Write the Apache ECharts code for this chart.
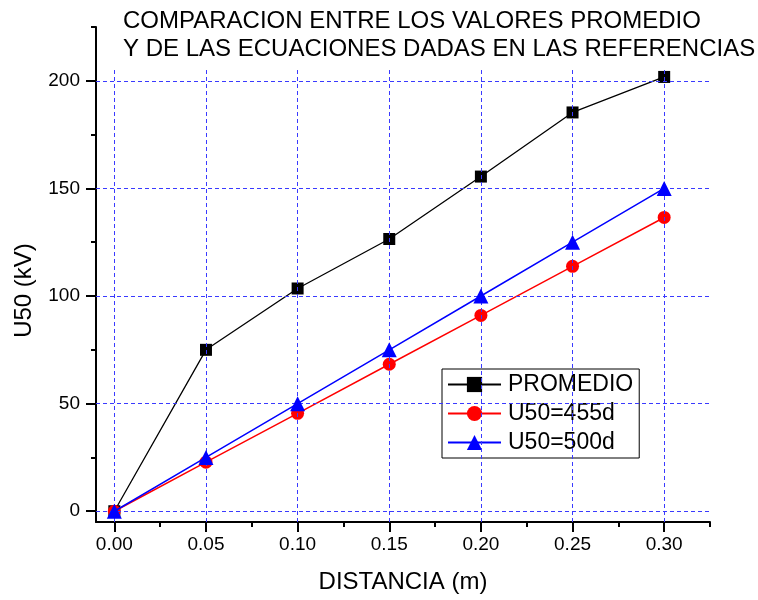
<!DOCTYPE html>
<html><head><meta charset="utf-8">
<script src="https://cdn.jsdelivr.net/npm/echarts@6/dist/echarts.min.js"></script>
<style>html,body{margin:0;padding:0;background:#fff}#c{width:758px;height:600px}</style>
</head><body><div id="c"></div>
<script>
const distances = [0.00, 0.05, 0.10, 0.15, 0.20, 0.25, 0.30];
const promedio = [0, 75, 103.5, 126.5, 155.5, 185.3, 201.8];
const u455 = [0, 22.8, 45.5, 68.3, 91, 113.8, 136.5];
const u500 = [0, 25, 50, 75, 100, 125, 150];
const xMajor = [0.00, 0.05, 0.10, 0.15, 0.20, 0.25, 0.30];
const xMinor = [0.025, 0.075, 0.125, 0.175, 0.225, 0.275, 0.325];
const yMajor = [0, 50, 100, 150, 200];
const yMinor = [25, 75, 125, 175, 225];
const seriesNames = ['PROMEDIO', 'U50=455d', 'U50=500d'];
const titleText = 'COMPARACION ENTRE LOS VALORES PROMEDIO\nY DE LAS ECUACIONES DADAS EN LAS REFERENCIAS';

const FONT = 'Liberation Sans, Arial, sans-serif';
const X_MIN = -0.01, X_MAX = 0.325, Y_MIN = -5, Y_MAX = 225, VGRID_TOP = 205;

const pair = (xs, ys) => xs.map((x, i) => [x, ys[i]]);
const gridStyle = { color: '#3a3aff', width: 1, type: [4, 3] };

const chart = echarts.init(document.getElementById('c'), null, { renderer: 'canvas' });
chart.setOption({
  animation: false,
  backgroundColor: '#fff',
  textStyle: { fontFamily: FONT },
  title: {
    text: titleText, left: 118, top: 2,
    textStyle: { fontSize: 24, fontWeight: 'normal', color: '#000', lineHeight: 28, fontFamily: FONT }
  },
  grid: { left: 96, right: 48, top: 27, bottom: 78 },
  xAxis: [{
    type: 'value', min: X_MIN, max: X_MAX,
    name: 'DISTANCIA (m)', nameLocation: 'middle', nameGap: 48,
    nameTextStyle: { fontSize: 24, color: '#000', fontFamily: FONT },
    axisLine: { show: true, onZero: false, lineStyle: { color: '#000', width: 2 } },
    axisTick: { show: true, inside: false, length: 10, customValues: xMajor, lineStyle: { color: '#000', width: 2 } },
    axisLabel: { customValues: xMajor, margin: 13, fontSize: 19, color: '#000', fontFamily: FONT,
      formatter: v => v.toFixed(2) },
    splitLine: { show: false }
  }, {
    type: 'value', min: X_MIN, max: X_MAX, position: 'bottom',
    axisLine: { show: false, onZero: false },
    axisTick: { show: true, inside: false, length: 5, customValues: xMinor, lineStyle: { color: '#000', width: 2 } },
    axisLabel: { show: false }, splitLine: { show: false }
  }],
  yAxis: [{
    type: 'value', min: Y_MIN, max: Y_MAX,
    name: 'U50 (kV)', nameLocation: 'middle', nameGap: 60, nameRotate: 90,
    nameTextStyle: { fontSize: 24, color: '#000', fontFamily: FONT, padding: [0, 0, 0, -32] },
    axisLine: { show: true, onZero: false, lineStyle: { color: '#000', width: 2 } },
    axisTick: { show: true, inside: false, length: 10, customValues: yMajor, lineStyle: { color: '#000', width: 2 } },
    axisLabel: { customValues: yMajor, margin: 16, fontSize: 19, color: '#000', fontFamily: FONT },
    splitLine: { show: false }
  }, {
    type: 'value', min: Y_MIN, max: Y_MAX, position: 'left',
    axisLine: { show: false, onZero: false },
    axisTick: { show: true, inside: false, length: 5, customValues: yMinor, lineStyle: { color: '#000', width: 2 } },
    axisLabel: { show: false }, splitLine: { show: false }
  }],
  legend: {
    data: seriesNames,
    orient: 'vertical', left: 442, top: 369,
    backgroundColor: '#fff', borderColor: '#000', borderWidth: 1, borderRadius: 0,
    padding: [3, 6, 3, 5], itemWidth: 53, itemHeight: 19, itemGap: 4,
    textStyle: { fontSize: 23, lineHeight: 25, color: '#000', fontFamily: FONT, padding: [0, 0, 0, 2] }
  },
  series: [
    {
      type: 'line', name: 'grid', data: [], silent: true, z: 1,
      markLine: {
        silent: true, symbol: ['none', 'none'], label: { show: false },
        lineStyle: gridStyle, animation: false,
        data: [
          ...xMajor.map(x => [{ coord: [x, Y_MIN] }, { coord: [x, VGRID_TOP] }]),
          ...yMajor.map(y => [{ coord: [X_MIN, y] }, { coord: [X_MAX, y] }])
        ]
      }
    },
    {
      type: 'line', name: seriesNames[0], data: pair(distances, promedio), z: 3,
      symbol: 'rect', symbolSize: 12,
      itemStyle: { color: '#000' }, lineStyle: { color: '#000', width: 1.3 }
    },
    {
      type: 'line', name: seriesNames[1], data: pair(distances, u455), z: 4,
      symbol: 'circle', symbolSize: 13,
      itemStyle: { color: '#ff0000' }, lineStyle: { color: '#ff0000', width: 1.5 }
    },
    {
      type: 'line', name: seriesNames[2], data: pair(distances, u500), z: 5,
      symbol: 'triangle', symbolSize: 15,
      itemStyle: { color: '#0000ff' }, lineStyle: { color: '#0000ff', width: 1.5 }
    }
  ]
});
</script></body></html>
